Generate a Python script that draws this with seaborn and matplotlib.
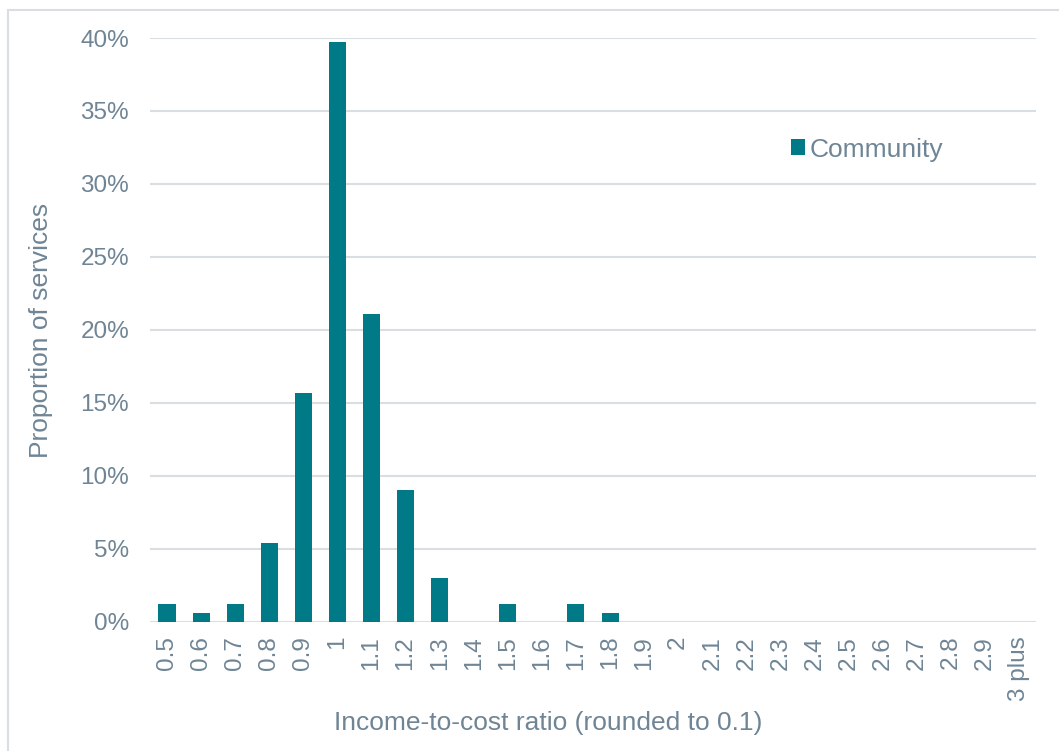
import matplotlib
matplotlib.use("Agg")
import matplotlib.pyplot as plt
import matplotlib.patches as mpatches
import seaborn as sns
import pandas as pd

# Income-to-cost ratio buckets and share of community services in each
ratio_labels = ["0.5", "0.6", "0.7", "0.8", "0.9", "1", "1.1", "1.2", "1.3", "1.4",
                "1.5", "1.6", "1.7", "1.8", "1.9", "2", "2.1", "2.2", "2.3", "2.4",
                "2.5", "2.6", "2.7", "2.8", "2.9", "3 plus"]
community_pct = [1.2, 0.6, 1.2, 5.42, 15.66, 39.76, 21.08, 9.04, 3.01, 0.0,
                 1.2, 0.0, 1.2, 0.6, 0.0, 0.0, 0.0, 0.0, 0.0, 0.0,
                 0.0, 0.0, 0.0, 0.0, 0.0, 0.0]
y_ticks = [0, 5, 10, 15, 20, 25, 30, 35, 40]

BAR = "#007A87"
TEXT = "#6F8595"
GRID = "#D9DEE3"

sns.set_theme(style="white")
plt.rcParams["font.family"] = ["Liberation Sans", "DejaVu Sans"]

df = pd.DataFrame({"ratio": ratio_labels, "share": community_pct, "series": "Community"})

fig = plt.figure(figsize=(10.59, 7.51), dpi=100)
ax = fig.add_axes([0.1416, 0.1718, 0.8367, 0.7776])

# thin outer frame around the chart area
fig.patches.append(mpatches.Rectangle((8 / 1059, -0.05), 1.2, 1 - 10 / 751 + 0.05,
                                      transform=fig.transFigure, fill=False,
                                      edgecolor=GRID, linewidth=1.5, zorder=0))

sns.barplot(data=df, x="ratio", y="share", hue="series", palette=[BAR],
            width=0.5, ax=ax, zorder=3, saturation=1, edgecolor="none")

ax.set_ylim(0, 40)
ax.set_xlim(-0.5, len(ratio_labels) - 0.5)
ax.set_yticks(y_ticks)
ax.set_yticklabels([f"{t}%" for t in y_ticks])
for t in y_ticks:
    ax.axhline(t, color=GRID, linewidth=1.5, zorder=1)

for s in ax.spines.values():
    s.set_visible(False)
ax.tick_params(axis="both", length=0, colors=TEXT, labelsize=17.5)
ax.tick_params(axis="x", rotation=90, pad=10)
ax.tick_params(axis="y", pad=15)
for lbl in ax.get_xticklabels():
    lbl.set_verticalalignment("top")

ax.set_xlabel("Income-to-cost ratio (rounded to 0.1)", color=TEXT, fontsize=19)
ax.xaxis.set_label_coords(0.449, -0.173)
ax.xaxis.label.set_verticalalignment("center")
ax.set_ylabel("Proportion of services", color=TEXT, fontsize=19, labelpad=20)

leg = ax.legend(loc="center left", bbox_to_anchor=(0.723, 0.809), frameon=False,
                fontsize=19, handlelength=0.55, handleheight=0.55, handletextpad=0.18,
                borderaxespad=0, borderpad=0, labelcolor=TEXT)

fig.savefig("out.png", dpi=100)
